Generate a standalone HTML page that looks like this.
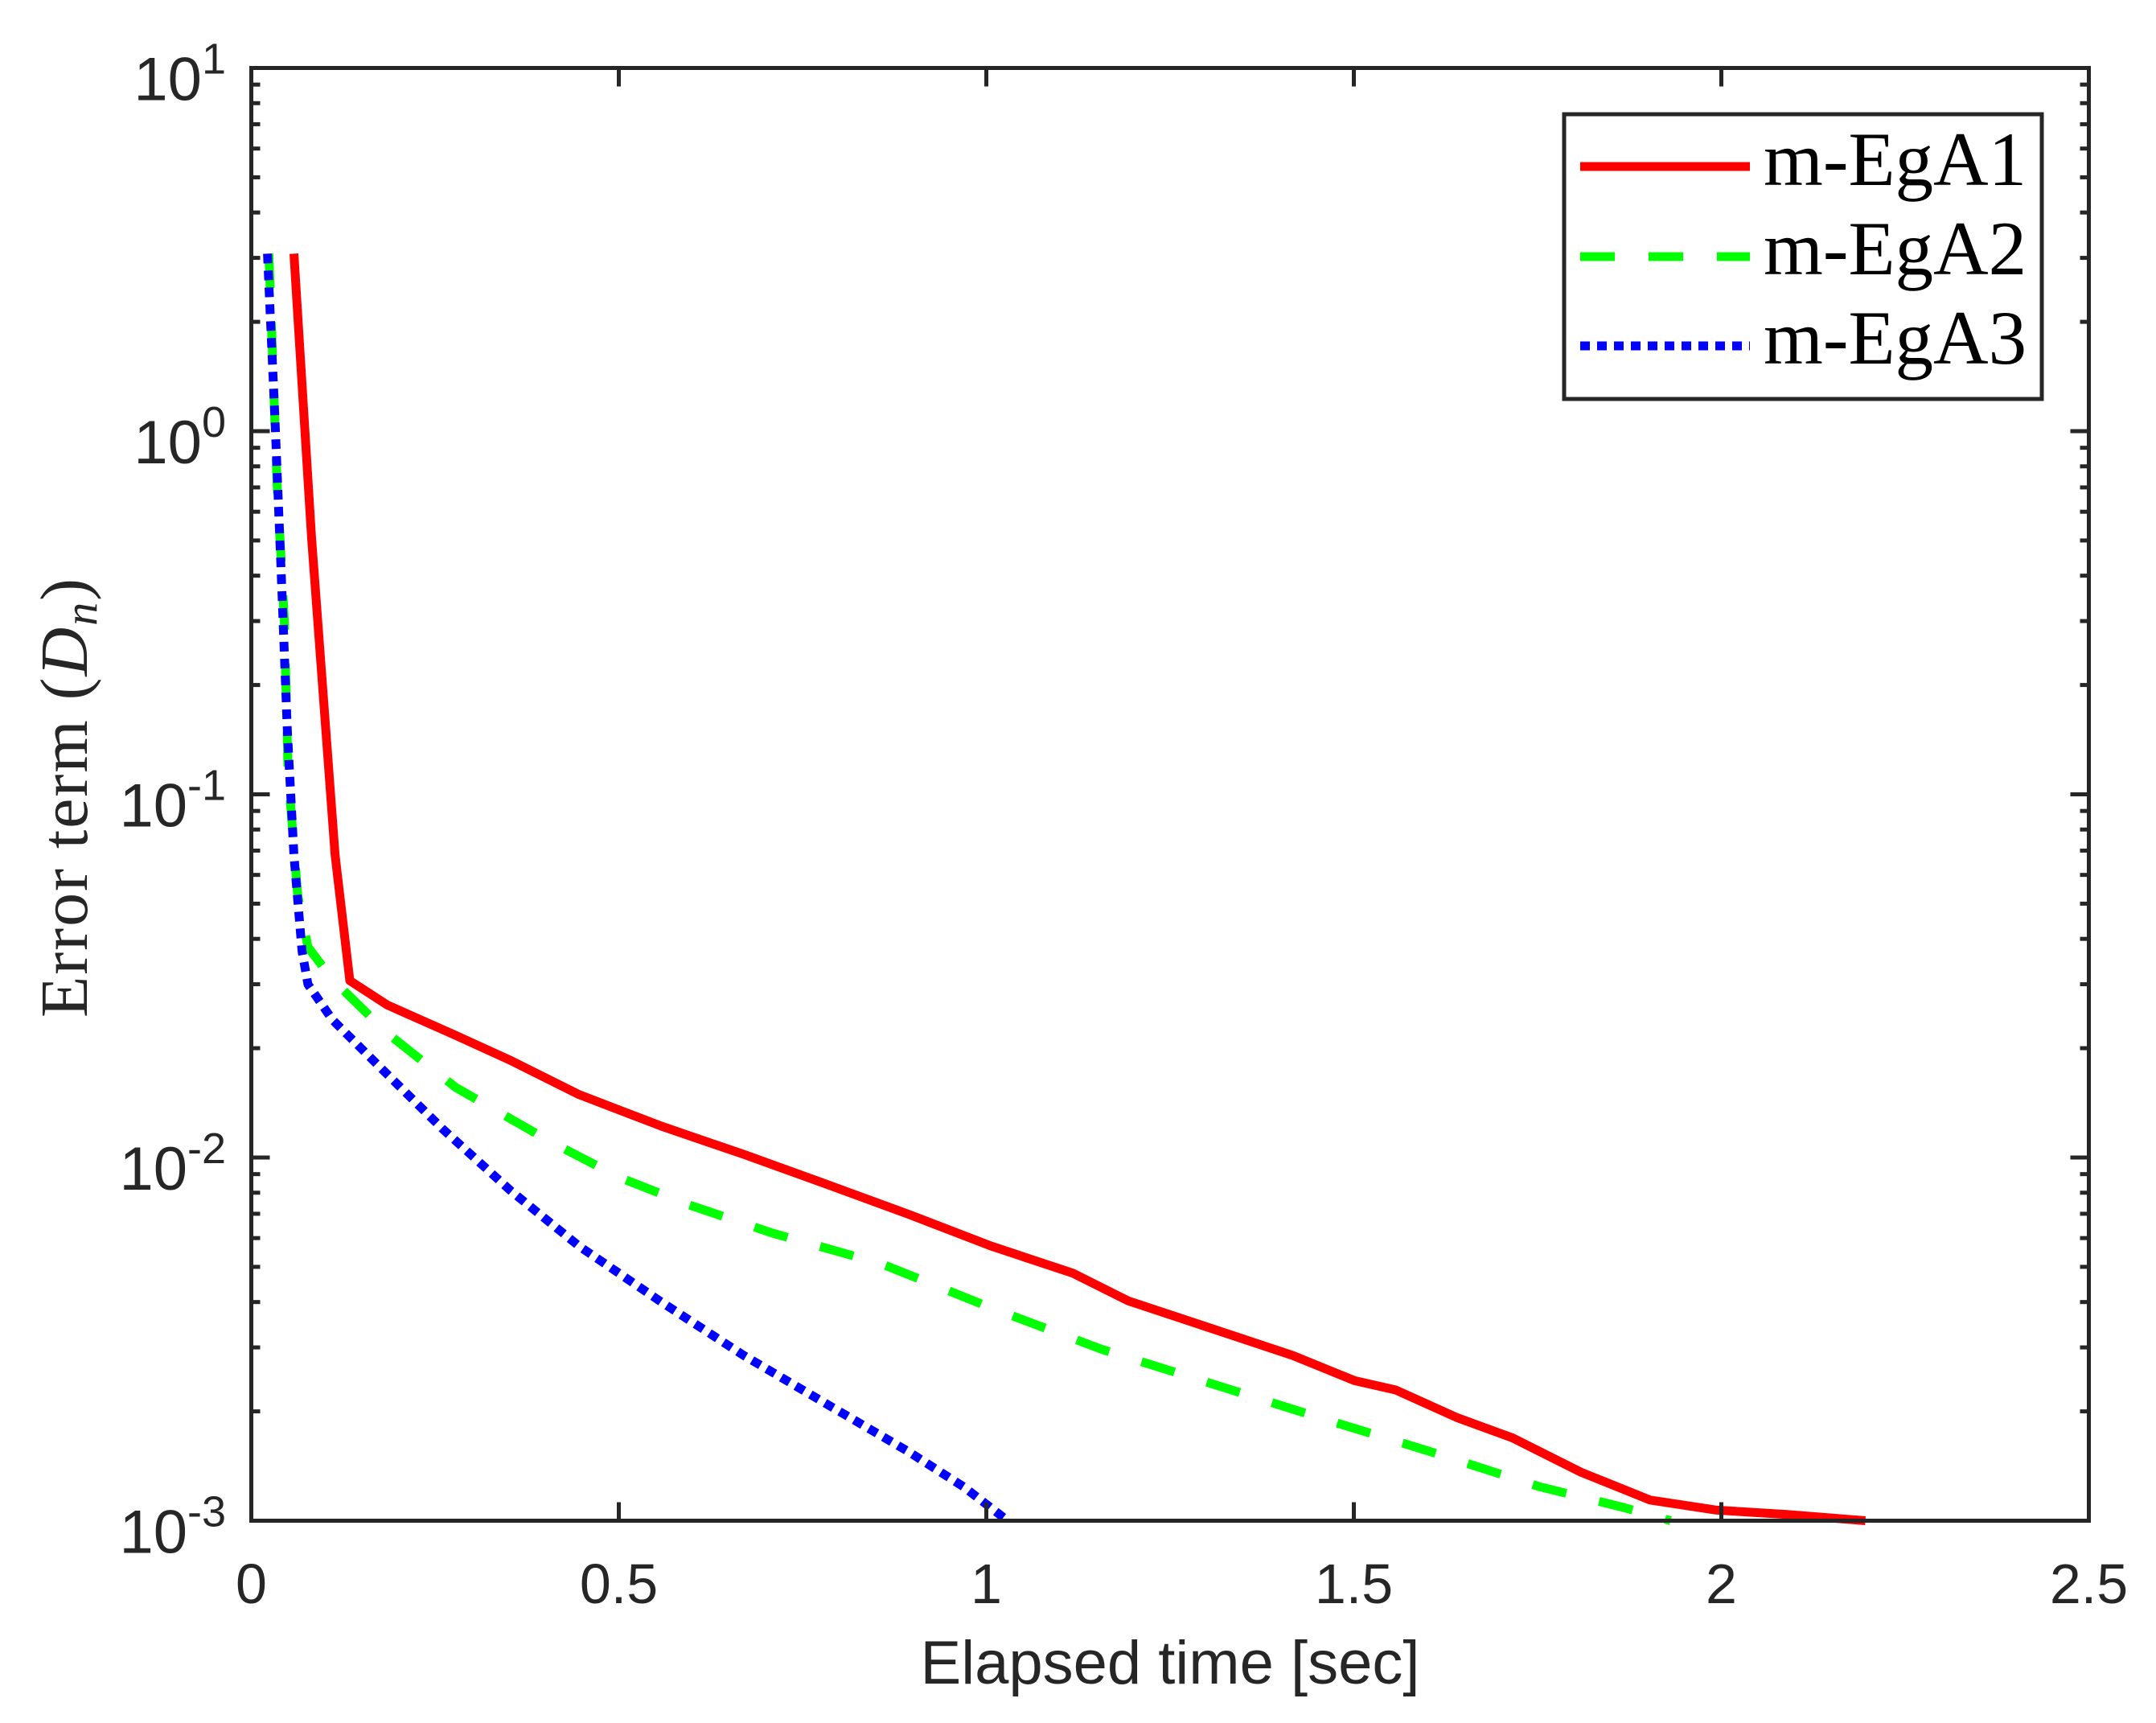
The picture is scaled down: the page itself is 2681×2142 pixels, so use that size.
<!DOCTYPE html>
<html><head><meta charset="utf-8"><style>
html,body{margin:0;padding:0;background:#fff;}
svg{display:block;}
</style></head><body>
<svg id="chart" width="2681" height="2142" viewBox="0 0 2681 2142" xmlns="http://www.w3.org/2000/svg">
<rect width="2681" height="2142" fill="#fff"/>
<g id="series"></g>
<g id="axes"></g>
<g id="legend">
<rect x="1945" y="142" width="594" height="354" fill="#fff" stroke="#262626" stroke-width="5"/>
<line x1="1965" y1="207" x2="2176" y2="207" stroke="#ff0000" stroke-width="11"/>
<line x1="1965" y1="319" x2="2176" y2="319" stroke="#00ff00" stroke-width="11" stroke-dasharray="43 42"/>
<line x1="1965" y1="430" x2="2176" y2="430" stroke="#0000ff" stroke-width="11" stroke-dasharray="12 9"/>
<text x="2193" y="230" font-family="Liberation Serif, serif" font-size="95" fill="#000">m-EgA1</text>
<text x="2193" y="341" font-family="Liberation Serif, serif" font-size="95" fill="#000">m-EgA2</text>
<text x="2193" y="452" font-family="Liberation Serif, serif" font-size="95" fill="#000">m-EgA3</text>
</g>
<text x="1455" y="2093" text-anchor="middle" font-family="Liberation Sans, sans-serif" font-size="76" fill="#262626">Elapsed time [sec]</text>
<text transform="translate(108,992) rotate(-90)" text-anchor="middle" textLength="546" lengthAdjust="spacing" font-family="Liberation Serif, serif" font-size="84" fill="#262626">Error term (<tspan font-style="italic">D</tspan><tspan font-style="italic" font-size="58" dy="12">n</tspan><tspan dy="-12">)</tspan></text>
</svg>
<script>
const xTicks = [0, 0.5, 1, 1.5, 2, 2.5];
const xTickLabels = ["0", "0.5", "1", "1.5", "2", "2.5"];
const yDecades = [1, 0, -1, -2, -3];
const seriesNames = ["m-EgA1", "m-EgA2", "m-EgA3"];
const x1 = [0.058,0.082,0.114,0.134,0.185,0.278,0.353,0.446,0.558,0.670,0.782,0.894,1.006,1.118,1.193,1.305,1.417,1.501,1.557,1.641,1.716,1.809,1.903,1.992,2.089,2.196];
const y1 = [3.08,0.51,0.068,0.0307,0.0263,0.0217,0.0185,0.0149,0.0122,0.0102,0.00845,0.00698,0.00571,0.0048,0.00403,0.00339,0.00285,0.00243,0.00229,0.00192,0.00169,0.00136,0.00114,0.00107,0.00104,0.001];
const x2 = [0.024,0.035,0.045,0.050,0.063,0.077,0.110,0.185,0.278,0.409,0.502,0.596,0.708,0.857,1.006,1.156,1.305,1.454,1.604,1.753,1.865,1.931];
const y2 = [3.08,0.72,0.30,0.115,0.053,0.038,0.031,0.022,0.0156,0.011,0.0088,0.0074,0.0062,0.0051,0.00386,0.00297,0.00239,0.00192,0.00155,0.00124,0.00109,0.001];
const x3 = [0.022,0.032,0.041,0.049,0.058,0.069,0.077,0.110,0.166,0.260,0.353,0.446,0.558,0.670,0.782,0.894,0.969,1.029];
const y3 = [3.08,1.11,0.39,0.15,0.068,0.037,0.030,0.024,0.0185,0.012,0.0081,0.0057,0.0040,0.00285,0.0021,0.00155,0.00124,0.001];

const L = 312.5, R = 2597.5, T = 84.5, B = 1890.5;
const xMin = 0, xMax = 2.5, yMinLog = -3, yMaxLog = 1;
function sx(v){ return L + (v - xMin) / (xMax - xMin) * (R - L); }
function sy(v){ return B - (Math.log10(v) - yMinLog) / (yMaxLog - yMinLog) * (B - T); }
const NS = "http://www.w3.org/2000/svg";
function mk(tag, attrs, parent){ const e = document.createElementNS(NS, tag); for (const k in attrs) e.setAttribute(k, attrs[k]); parent.appendChild(e); return e; }

const sg = document.getElementById('series');
const styles = [
  {c:"#ff0000", d:null},
  {c:"#00ff00", d:"43 42"},
  {c:"#0000ff", d:"12 9"}
];
const xs = [x1, x2, x3], ys = [y1, y2, y3];
for (let s = 0; s < 3; s++) {
  const pts = xs[s].map((v, i) => sx(v).toFixed(1) + "," + sy(ys[s][i]).toFixed(1)).join(" ");
  const a = {points: pts, fill: "none", stroke: styles[s].c, "stroke-width": 11, "stroke-linejoin": "round"};
  if (styles[s].d) a["stroke-dasharray"] = styles[s].d;
  const pl = mk('polyline', a, sg);
  
  
}

const ag = document.getElementById('axes');
const frame = mk('rect', {x: L, y: T, width: R - L, height: B - T, fill: "none", stroke: "#262626", "stroke-width": 5}, ag);


const axc = "#262626";
xTicks.forEach((t, i) => {
  const x = sx(t);
  mk('line', {x1: x, y1: B, x2: x, y2: B - 23, stroke: axc, "stroke-width": 5}, ag);
  mk('line', {x1: x, y1: T, x2: x, y2: T + 23, stroke: axc, "stroke-width": 5}, ag);
  const tx = mk('text', {x: x, y: 1993, "text-anchor": "middle", "font-family": "Liberation Sans, sans-serif", "font-size": 70, fill: axc}, ag);
  tx.textContent = xTickLabels[i];
  
  
});
yDecades.forEach(d => {
  const y = sy(Math.pow(10, d));
  mk('line', {x1: L, y1: y, x2: L + 23, y2: y, stroke: axc, "stroke-width": 5}, ag);
  mk('line', {x1: R, y1: y, x2: R - 23, y2: y, stroke: axc, "stroke-width": 5}, ag);
  if (d > yMinLog) {
    for (let m = 2; m <= 9; m++) {
      const ym = sy(m * Math.pow(10, d - 1));
      mk('line', {x1: L, y1: ym, x2: L + 11, y2: ym, stroke: axc, "stroke-width": 5}, ag);
      mk('line', {x1: R, y1: ym, x2: R - 11, y2: ym, stroke: axc, "stroke-width": 5}, ag);
    }
  }
  const tx = mk('text', {x: 281, y: y + 40, "text-anchor": "end", "font-family": "Liberation Sans, sans-serif", "font-size": 76, fill: axc}, ag);
  
  
  const a = document.createElementNS(NS, 'tspan'); a.textContent = "10"; tx.appendChild(a);
  const b = document.createElementNS(NS, 'tspan'); b.setAttribute('font-size', '54'); b.setAttribute('dy', '-33'); b.textContent = String(d); tx.appendChild(b);
});
</script>
</body></html>
